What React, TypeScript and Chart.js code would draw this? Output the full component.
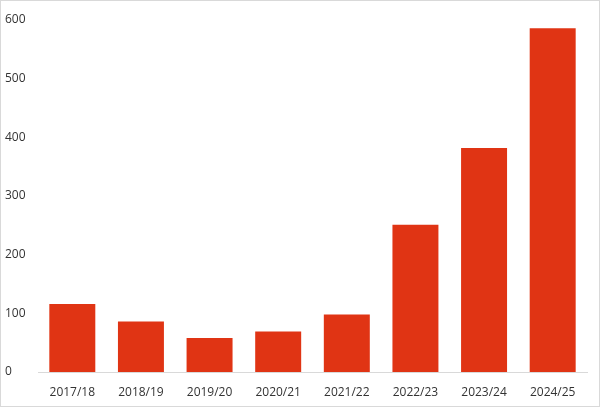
import React, { useEffect, useRef } from 'react';
import { Chart, registerables } from 'chart.js';

Chart.register(...registerables);

const seasons = ['2017/18', '2018/19', '2019/20', '2020/21', '2021/22', '2022/23', '2023/24', '2024/25'];
const counts = [116, 86, 58, 69, 98, 251, 382, 586];

const App: React.FC = () => {
  const canvasRef = useRef<HTMLCanvasElement>(null);
  const chartRef = useRef<Chart | null>(null);

  useEffect(() => {
    document.body.style.margin = '0';
    if (!canvasRef.current) return;
    const ctx = canvasRef.current.getContext('2d');
    if (!ctx) return;

    chartRef.current = new Chart(ctx, {
      type: 'bar',
      data: {
        labels: seasons,
        datasets: [
          {
            data: counts,
            backgroundColor: '#E03414',
            barPercentage: 0.67,
            categoryPercentage: 1,
          },
        ],
      },
      options: {
        animation: false,
        responsive: false,
        layout: { padding: { left: 4, right: 12, top: 19, bottom: 0 } },
        plugins: { legend: { display: false }, tooltip: { enabled: false } },
        scales: {
          x: {
            grid: { display: false },
            border: { color: '#D9D9D9', width: 1 },
            ticks: {
              color: '#333333',
              font: { family: 'Open Sans', size: 12 },
              maxRotation: 0,
              padding: 5,
            },
            afterFit: (scale: any) => {
              scale.height = 34;
            },
          },
          y: {
            min: 0,
            max: 600,
            grid: { display: false },
            border: { display: false },
            ticks: {
              stepSize: 100,
              color: '#333333',
              font: { family: 'Open Sans', size: 12 },
              crossAlign: 'far',
              padding: 4,
            },
            afterFit: (scale: any) => {
              scale.width = 33;
            },
          },
        },
      },
    });

    return () => {
      chartRef.current?.destroy();
      chartRef.current = null;
    };
  }, []);

  return (
    <div
      style={{
        width: 600,
        height: 407,
        boxSizing: 'border-box',
        border: '1px solid #D9D9D9',
        background: '#fff',
      }}
    >
      <canvas ref={canvasRef} width={598} height={405} style={{ display: 'block' }} />
    </div>
  );
};

export default App;
